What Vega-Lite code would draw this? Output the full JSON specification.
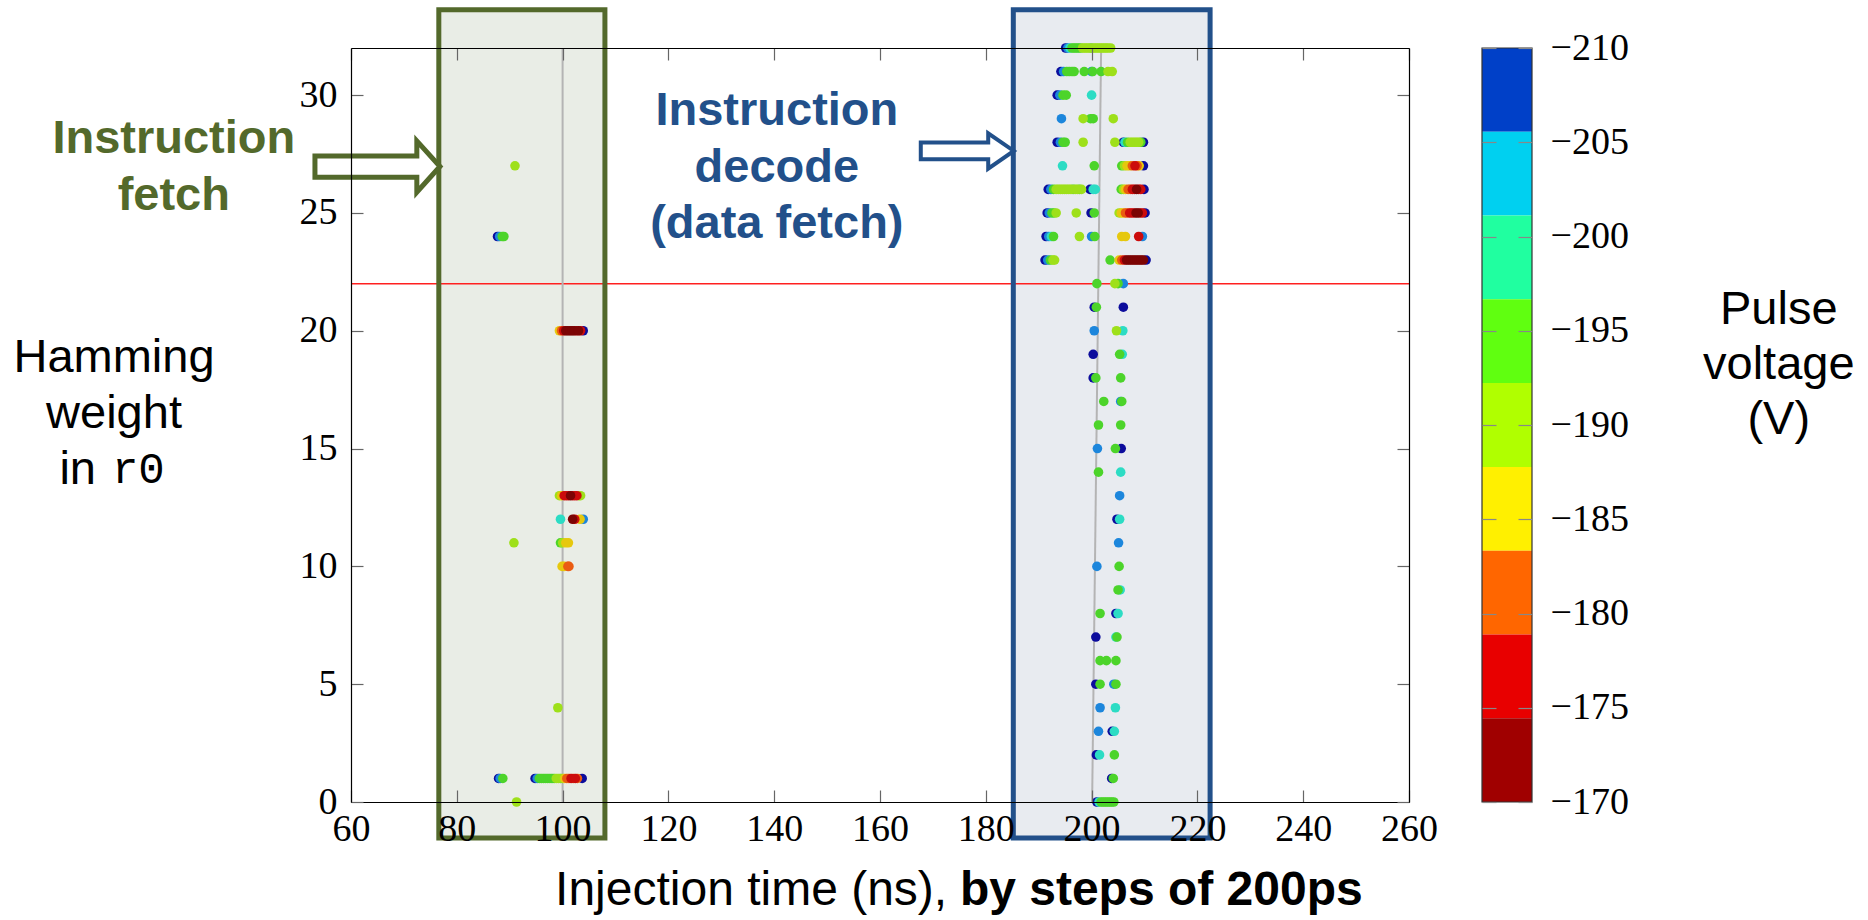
{
  "$schema": "https://vega.github.io/schema/vega-lite/v6.json",
  "padding": {"left": 13, "top": 7, "right": 5, "bottom": 5},
  "background": "white",
  "width": 1058,
  "height": 754,
  "config": {
    "view": {"stroke": null},
    "axis": {"grid": false, "title": null, "zindex": 1, "labelFont": "Liberation Serif", "labelFontSize": 38, "labelColor": "#000", "domainColor": "#000", "domainWidth": 1.2, "tickColor": "#666", "tickWidth": 1.2, "labelFlush": false, "labelOverlap": false}
  },
  "datasets": {
    "pts": [
      {"t":91.0,"hw":27,"v":-190},
      {"t":87.7,"hw":24,"v":-208},{"t":88.1,"hw":24,"v":-203.5},{"t":88.6,"hw":24,"v":-194.5},{"t":88.9,"hw":24,"v":-194.5},
      {"t":99.4,"hw":20,"v":-185.5},{"t":99.8,"hw":20,"v":-181},{"t":100.2,"hw":20,"v":-176.5},{"t":100.6,"hw":20,"v":-172},{"t":101.0,"hw":20,"v":-172},{"t":101.4,"hw":20,"v":-172},{"t":101.8,"hw":20,"v":-172},{"t":102.2,"hw":20,"v":-172},{"t":102.6,"hw":20,"v":-176.5},{"t":103.0,"hw":20,"v":-172},{"t":103.4,"hw":20,"v":-176.5},{"t":103.9,"hw":20,"v":-208},
      {"t":99.4,"hw":13,"v":-190},{"t":99.8,"hw":13,"v":-185.5},{"t":100.3,"hw":13,"v":-176.5},{"t":100.7,"hw":13,"v":-176.5},{"t":101.1,"hw":13,"v":-176.5},{"t":101.5,"hw":13,"v":-172},{"t":101.9,"hw":13,"v":-176.5},{"t":102.3,"hw":13,"v":-176.5},{"t":102.7,"hw":13,"v":-176.5},{"t":103.1,"hw":13,"v":-190},{"t":103.4,"hw":13,"v":-190},
      {"t":99.6,"hw":12,"v":-199},{"t":101.9,"hw":12,"v":-172},{"t":102.3,"hw":12,"v":-176.5},{"t":103.3,"hw":12,"v":-185.5},{"t":103.9,"hw":12,"v":-203.5},
      {"t":90.8,"hw":11,"v":-190},{"t":99.6,"hw":11,"v":-194.5},{"t":100.0,"hw":11,"v":-190},{"t":100.6,"hw":11,"v":-185.5},{"t":101.1,"hw":11,"v":-185.5},
      {"t":99.9,"hw":10,"v":-185.5},{"t":100.3,"hw":10,"v":-185.5},{"t":101.0,"hw":10,"v":-181},{"t":101.2,"hw":10,"v":-181},
      {"t":99.1,"hw":4,"v":-190},
      {"t":87.9,"hw":1,"v":-208},{"t":88.2,"hw":1,"v":-203.5},{"t":88.7,"hw":1,"v":-194.5},
      {"t":94.8,"hw":1,"v":-208},{"t":95.2,"hw":1,"v":-203.5},{"t":95.6,"hw":1,"v":-194.5},{"t":96.0,"hw":1,"v":-194.5},{"t":96.4,"hw":1,"v":-194.5},{"t":96.8,"hw":1,"v":-194.5},{"t":97.2,"hw":1,"v":-194.5},{"t":97.6,"hw":1,"v":-194.5},{"t":98.0,"hw":1,"v":-194.5},{"t":98.4,"hw":1,"v":-194.5},{"t":98.8,"hw":1,"v":-190},{"t":99.2,"hw":1,"v":-190},{"t":99.6,"hw":1,"v":-194.5},{"t":100.0,"hw":1,"v":-190},{"t":100.4,"hw":1,"v":-185.5},{"t":100.8,"hw":1,"v":-181},{"t":101.2,"hw":1,"v":-181},{"t":101.6,"hw":1,"v":-176.5},{"t":102.0,"hw":1,"v":-181},{"t":102.4,"hw":1,"v":-176.5},{"t":102.8,"hw":1,"v":-181},{"t":103.7,"hw":1,"v":-208},
      {"t":91.3,"hw":0,"v":-190},
      {"t":195.1,"hw":32,"v":-208},{"t":195.5,"hw":32,"v":-203.5},{"t":195.9,"hw":32,"v":-199},{"t":196.3,"hw":32,"v":-194.5},{"t":196.7,"hw":32,"v":-194.5},{"t":197.1,"hw":32,"v":-194.5},{"t":197.5,"hw":32,"v":-194.5},{"t":197.9,"hw":32,"v":-194.5},{"t":198.3,"hw":32,"v":-190},{"t":198.7,"hw":32,"v":-190},{"t":199.1,"hw":32,"v":-190},{"t":199.5,"hw":32,"v":-190},{"t":199.9,"hw":32,"v":-194.5},{"t":200.3,"hw":32,"v":-190},{"t":200.7,"hw":32,"v":-190},{"t":201.1,"hw":32,"v":-190},{"t":201.5,"hw":32,"v":-190},{"t":201.9,"hw":32,"v":-190},{"t":202.3,"hw":32,"v":-190},{"t":202.7,"hw":32,"v":-190},{"t":203.1,"hw":32,"v":-190},{"t":203.6,"hw":32,"v":-190},
      {"t":194.2,"hw":31,"v":-208},{"t":194.7,"hw":31,"v":-203.5},{"t":195.3,"hw":31,"v":-194.5},{"t":195.8,"hw":31,"v":-194.5},{"t":196.3,"hw":31,"v":-194.5},{"t":196.7,"hw":31,"v":-194.5},{"t":198.6,"hw":31,"v":-194.5},{"t":200.0,"hw":31,"v":-203.5},{"t":200.2,"hw":31,"v":-194.5},{"t":201.8,"hw":31,"v":-194.5},{"t":203.1,"hw":31,"v":-190},{"t":203.9,"hw":31,"v":-190},
      {"t":193.5,"hw":30,"v":-208},{"t":194.0,"hw":30,"v":-203.5},{"t":194.6,"hw":30,"v":-194.5},{"t":195.2,"hw":30,"v":-194.5},{"t":200.0,"hw":30,"v":-199},
      {"t":194.3,"hw":29,"v":-203.5},{"t":198.4,"hw":29,"v":-190},{"t":199.8,"hw":29,"v":-194.5},{"t":200.3,"hw":29,"v":-194.5},{"t":204.1,"hw":29,"v":-190},
      {"t":193.5,"hw":28,"v":-208},{"t":194.1,"hw":28,"v":-203.5},{"t":194.6,"hw":28,"v":-194.5},{"t":195.0,"hw":28,"v":-194.5},{"t":198.4,"hw":28,"v":-190},{"t":204.4,"hw":28,"v":-190},{"t":206.0,"hw":28,"v":-208},{"t":206.3,"hw":28,"v":-199},{"t":206.8,"hw":28,"v":-194.5},{"t":207.3,"hw":28,"v":-190},{"t":207.7,"hw":28,"v":-190},{"t":208.1,"hw":28,"v":-190},{"t":208.5,"hw":28,"v":-190},{"t":208.9,"hw":28,"v":-190},{"t":209.3,"hw":28,"v":-194.5},{"t":209.8,"hw":28,"v":-208},
      {"t":194.5,"hw":27,"v":-199},{"t":200.5,"hw":27,"v":-194.5},{"t":205.7,"hw":27,"v":-194.5},{"t":206.2,"hw":27,"v":-190},{"t":206.7,"hw":27,"v":-185.5},{"t":207.2,"hw":27,"v":-185.5},{"t":207.7,"hw":27,"v":-181},{"t":208.2,"hw":27,"v":-176.5},{"t":208.6,"hw":27,"v":-181},{"t":209.0,"hw":27,"v":-185.5},{"t":209.8,"hw":27,"v":-208},
      {"t":191.8,"hw":26,"v":-208},{"t":192.3,"hw":26,"v":-203.5},{"t":192.8,"hw":26,"v":-194.5},{"t":193.3,"hw":26,"v":-190},{"t":193.7,"hw":26,"v":-190},{"t":194.1,"hw":26,"v":-190},{"t":194.5,"hw":26,"v":-190},{"t":194.9,"hw":26,"v":-190},{"t":195.3,"hw":26,"v":-190},{"t":195.7,"hw":26,"v":-190},{"t":196.1,"hw":26,"v":-190},{"t":196.5,"hw":26,"v":-194.5},{"t":196.9,"hw":26,"v":-190},{"t":197.3,"hw":26,"v":-190},{"t":197.7,"hw":26,"v":-194.5},{"t":198.1,"hw":26,"v":-190},{"t":199.7,"hw":26,"v":-208},{"t":200.3,"hw":26,"v":-199},{"t":200.7,"hw":26,"v":-199},{"t":205.6,"hw":26,"v":-194.5},{"t":206.0,"hw":26,"v":-190},{"t":206.4,"hw":26,"v":-185.5},{"t":206.9,"hw":26,"v":-181},{"t":207.3,"hw":26,"v":-181},{"t":207.7,"hw":26,"v":-176.5},{"t":208.1,"hw":26,"v":-176.5},{"t":208.5,"hw":26,"v":-172},{"t":208.9,"hw":26,"v":-176.5},{"t":209.3,"hw":26,"v":-176.5},{"t":209.9,"hw":26,"v":-208},
      {"t":191.6,"hw":25,"v":-208},{"t":192.0,"hw":25,"v":-203.5},{"t":192.5,"hw":25,"v":-194.5},{"t":192.9,"hw":25,"v":-194.5},{"t":193.3,"hw":25,"v":-190},{"t":197.1,"hw":25,"v":-190},{"t":199.9,"hw":25,"v":-208},{"t":200.5,"hw":25,"v":-194.5},{"t":205.2,"hw":25,"v":-190},{"t":205.6,"hw":25,"v":-185.5},{"t":206.0,"hw":25,"v":-185.5},{"t":206.4,"hw":25,"v":-181},{"t":206.8,"hw":25,"v":-181},{"t":207.2,"hw":25,"v":-176.5},{"t":207.6,"hw":25,"v":-176.5},{"t":208.0,"hw":25,"v":-176.5},{"t":208.4,"hw":25,"v":-172},{"t":208.8,"hw":25,"v":-172},{"t":209.2,"hw":25,"v":-176.5},{"t":209.6,"hw":25,"v":-176.5},{"t":210.1,"hw":25,"v":-208},
      {"t":191.4,"hw":24,"v":-208},{"t":191.9,"hw":24,"v":-203.5},{"t":192.4,"hw":24,"v":-199},{"t":192.8,"hw":24,"v":-194.5},{"t":197.7,"hw":24,"v":-190},{"t":200.0,"hw":24,"v":-203.5},{"t":200.6,"hw":24,"v":-194.5},{"t":205.7,"hw":24,"v":-185.5},{"t":206.4,"hw":24,"v":-185.5},{"t":208.9,"hw":24,"v":-176.5},{"t":209.6,"hw":24,"v":-203.5},
      {"t":191.2,"hw":23,"v":-208},{"t":191.7,"hw":23,"v":-203.5},{"t":192.2,"hw":23,"v":-194.5},{"t":192.7,"hw":23,"v":-190},{"t":193.0,"hw":23,"v":-190},{"t":203.5,"hw":23,"v":-194.5},{"t":205.2,"hw":23,"v":-185.5},{"t":205.7,"hw":23,"v":-181},{"t":206.2,"hw":23,"v":-176.5},{"t":206.6,"hw":23,"v":-172},{"t":207.0,"hw":23,"v":-172},{"t":207.4,"hw":23,"v":-172},{"t":207.8,"hw":23,"v":-172},{"t":208.2,"hw":23,"v":-172},{"t":208.6,"hw":23,"v":-172},{"t":209.0,"hw":23,"v":-172},{"t":209.4,"hw":23,"v":-172},{"t":209.8,"hw":23,"v":-172},{"t":210.3,"hw":23,"v":-208},
      {"t":201.0,"hw":22,"v":-194.5},{"t":204.4,"hw":22,"v":-190},{"t":205.0,"hw":22,"v":-194.5},{"t":206.0,"hw":22,"v":-203.5},
      {"t":200.5,"hw":21,"v":-208},{"t":200.9,"hw":21,"v":-194.5},{"t":206.0,"hw":21,"v":-208},
      {"t":200.5,"hw":20,"v":-203.5},{"t":204.7,"hw":20,"v":-190},{"t":205.9,"hw":20,"v":-199},
      {"t":200.3,"hw":19,"v":-208},{"t":205.3,"hw":19,"v":-194.5},{"t":205.8,"hw":19,"v":-199},
      {"t":200.3,"hw":18,"v":-208},{"t":200.8,"hw":18,"v":-194.5},{"t":205.5,"hw":18,"v":-194.5},
      {"t":202.3,"hw":17,"v":-194.5},{"t":205.5,"hw":17,"v":-203.5},{"t":205.7,"hw":17,"v":-194.5},
      {"t":201.3,"hw":16,"v":-194.5},{"t":205.5,"hw":16,"v":-194.5},
      {"t":201.1,"hw":15,"v":-203.5},{"t":204.5,"hw":15,"v":-194.5},{"t":205.6,"hw":15,"v":-208},
      {"t":201.3,"hw":14,"v":-194.5},{"t":205.5,"hw":14,"v":-199},
      {"t":205.3,"hw":13,"v":-203.5},
      {"t":204.8,"hw":12,"v":-208},{"t":205.3,"hw":12,"v":-199},
      {"t":205.1,"hw":11,"v":-203.5},
      {"t":201.0,"hw":10,"v":-203.5},{"t":205.2,"hw":10,"v":-194.5},
      {"t":205.0,"hw":9,"v":-194.5},{"t":205.4,"hw":9,"v":-199},
      {"t":201.6,"hw":8,"v":-194.5},{"t":204.6,"hw":8,"v":-208},{"t":205.0,"hw":8,"v":-199},
      {"t":200.8,"hw":7,"v":-208},{"t":204.6,"hw":7,"v":-199},{"t":204.8,"hw":7,"v":-194.5},
      {"t":201.6,"hw":6,"v":-194.5},{"t":202.8,"hw":6,"v":-194.5},{"t":204.6,"hw":6,"v":-194.5},
      {"t":200.8,"hw":5,"v":-208},{"t":201.6,"hw":5,"v":-194.5},{"t":204.2,"hw":5,"v":-203.5},{"t":204.6,"hw":5,"v":-194.5},
      {"t":201.6,"hw":4,"v":-203.5},{"t":204.5,"hw":4,"v":-199},
      {"t":201.3,"hw":3,"v":-203.5},{"t":203.9,"hw":3,"v":-208},{"t":204.3,"hw":3,"v":-199},
      {"t":200.9,"hw":2,"v":-208},{"t":201.5,"hw":2,"v":-199},{"t":204.3,"hw":2,"v":-194.5},
      {"t":203.8,"hw":1,"v":-208},{"t":204.1,"hw":1,"v":-194.5},
      {"t":201.0,"hw":0,"v":-208},{"t":201.4,"hw":0,"v":-199},{"t":201.8,"hw":0,"v":-194.5},{"t":202.2,"hw":0,"v":-194.5},{"t":202.6,"hw":0,"v":-194.5},{"t":203.0,"hw":0,"v":-194.5},{"t":203.4,"hw":0,"v":-194.5},{"t":203.8,"hw":0,"v":-194.5},{"t":204.2,"hw":0,"v":-194.5}
    ],
    "boxes": [
      {"stage": "fetch", "t1": 76.6, "t2": 108.0, "lo": -1.53, "hi": 33.62},
      {"stage": "decode", "t1": 185.2, "t2": 222.4, "lo": -1.53, "hi": 33.62}
    ],
    "glines": [
      {"t": 100, "t2": 100, "hw": 0, "hw2": 32},
      {"t": 201.8, "t2": 200.1, "hw": 32, "hw2": 0}
    ],
    "thr": [{"hw": 22}],
    "arrows": [
      {"stage": "fetch", "t": 65.0, "hw": 26.97},
      {"stage": "decode", "t": 176.5, "hw": 27.63}
    ],
    "ann": [
      {"kind": "fetch", "t": 26.5, "hw": 28.14, "text": "Instruction"},
      {"kind": "fetch", "t": 26.5, "hw": 25.72, "text": "fetch"},
      {"kind": "decode", "t": 140.5, "hw": 29.33, "text": "Instruction"},
      {"kind": "decode", "t": 140.5, "hw": 26.91, "text": "decode"},
      {"kind": "decode", "t": 140.5, "hw": 24.53, "text": "(data fetch)"},
      {"kind": "ylab", "t": 15.2, "hw": 18.85, "text": "Hamming"},
      {"kind": "ylab", "t": 15.2, "hw": 16.47, "text": "weight"},
      {"kind": "ylabin", "t": 11.8, "hw": 14.09, "text": "in"},
      {"kind": "ylabmono", "t": 14.8, "hw": 14.09, "text": "r0"},
      {"kind": "ylab", "t": 329.9, "hw": 20.88, "text": "Pulse"},
      {"kind": "ylab", "t": 329.9, "hw": 18.55, "text": "voltage"},
      {"kind": "ylab", "t": 329.9, "hw": 16.21, "text": "(V)"},
      {"kind": "xt", "t": 172.7, "hw": -3.78, "text": "Injection time (ns),"},
      {"kind": "xtb", "t": 175.1, "hw": -3.78, "text": "by steps of 200ps"}
    ],
    "bands": [
      {"band": "c1", "lo": -210, "hi": -205.556},
      {"band": "c2", "lo": -205.556, "hi": -201.111},
      {"band": "c3", "lo": -201.111, "hi": -196.667},
      {"band": "c4", "lo": -196.667, "hi": -192.222},
      {"band": "c5", "lo": -192.222, "hi": -187.778},
      {"band": "c6", "lo": -187.778, "hi": -183.333},
      {"band": "c7", "lo": -183.333, "hi": -178.889},
      {"band": "c8", "lo": -178.889, "hi": -174.444},
      {"band": "c9", "lo": -174.444, "hi": -170}
    ],
    "cbframe": [{"lo": -210, "hi": -170}]
  },
  "resolve": {"scale": {"x": "independent", "y": "independent", "color": "independent"}, "axis": {"x": "independent", "y": "independent"}},
  "layer": [
    {
      "data": {"name": "boxes"},
      "mark": {"type": "rect", "strokeWidth": 0},
      "encoding": {
        "x": {"field": "t1", "type": "quantitative", "scale": {"domain": [60, 260], "nice": false, "zero": false}, "axis": null},
        "x2": {"field": "t2"},
        "y": {"field": "lo", "type": "quantitative", "scale": {"domain": [0, 32], "nice": false, "zero": false}, "axis": null},
        "y2": {"field": "hi"},
        "fill": {"field": "stage", "type": "nominal", "scale": {"domain": ["fetch", "decode"], "range": ["#e9ede6", "#e8ebf0"]}, "legend": null}
      }
    },
    {
      "data": {"name": "thr"},
      "mark": {"type": "rule", "color": "#ff2020", "strokeWidth": 1.5},
      "encoding": {
        "y": {"field": "hw", "type": "quantitative", "scale": {"domain": [0, 32], "nice": false, "zero": false}, "axis": null}
      }
    },
    {
      "data": {"name": "glines"},
      "mark": {"type": "rule", "color": "#b4b4b4", "strokeWidth": 2},
      "encoding": {
        "x": {"field": "t", "type": "quantitative", "scale": {"domain": [60, 260], "nice": false, "zero": false},
              "axis": {"orient": "top", "zindex": 2, "values": [60, 80, 100, 120, 140, 160, 180, 200, 220, 240, 260], "labels": false, "tickSize": -12, "domain": true}},
        "x2": {"field": "t2"},
        "y": {"field": "hw", "type": "quantitative", "scale": {"domain": [0, 32], "nice": false, "zero": false},
              "axis": {"orient": "right", "zindex": 2, "values": [0, 5, 10, 15, 20, 25, 30], "labels": false, "tickSize": -12, "domain": true}},
        "y2": {"field": "hw2"}
      }
    },
    {
      "data": {"name": "pts"},
      "mark": {"type": "circle", "size": 92, "opacity": 1},
      "encoding": {
        "x": {"field": "t", "type": "quantitative", "scale": {"domain": [60, 260], "nice": false, "zero": false},
              "axis": {"orient": "bottom", "zindex": 2, "values": [60, 80, 100, 120, 140, 160, 180, 200, 220, 240, 260], "tickSize": -12, "labelPadding": 20, "domain": true}},
        "y": {"field": "hw", "type": "quantitative", "scale": {"domain": [0, 32], "nice": false, "zero": false},
              "axis": {"orient": "left", "zindex": 2, "values": [0, 5, 10, 15, 20, 25, 30], "tickSize": -12, "labelPadding": 26, "domain": true}},
        "color": {"field": "v", "type": "quantitative", "scale": {"type": "quantize", "domain": [-210, -170], "range": ["#0c0c9c", "#1c86dc", "#2cdcc4", "#4cd42a", "#9ee01a", "#e6c80e", "#ea5c12", "#cc0c0c", "#7c0404"]}, "legend": null},
        "order": {"field": "v", "type": "quantitative", "sort": "ascending"}
      }
    },
    {
      "data": {"name": "boxes"},
      "mark": {"type": "rect", "fillOpacity": 0, "strokeWidth": 5},
      "encoding": {
        "x": {"field": "t1", "type": "quantitative", "scale": {"domain": [60, 260], "nice": false, "zero": false}, "axis": null},
        "x2": {"field": "t2"},
        "y": {"field": "lo", "type": "quantitative", "scale": {"domain": [0, 32], "nice": false, "zero": false}, "axis": null},
        "y2": {"field": "hi"},
        "stroke": {"field": "stage", "type": "nominal", "scale": {"domain": ["fetch", "decode"], "range": ["#53692b", "#22508a"]}, "legend": null}
      }
    },
    {
      "data": {"name": "arrows"},
      "transform": [{"filter": "datum.stage === 'fetch'"}],
      "mark": {"type": "point", "shape": "M-1,-0.17L0.63,-0.17L0.63,-0.41L1,0L0.63,0.41L0.63,0.17L-1,0.17Z", "size": 15625, "filled": false, "fill": "white", "fillOpacity": 1, "stroke": "#53692b", "strokeWidth": 5, "opacity": 1},
      "encoding": {
        "x": {"field": "t", "type": "quantitative", "scale": {"domain": [60, 260], "nice": false, "zero": false}, "axis": null},
        "y": {"field": "hw", "type": "quantitative", "scale": {"domain": [0, 32], "nice": false, "zero": false}, "axis": null}
      }
    },
    {
      "data": {"name": "arrows"},
      "transform": [{"filter": "datum.stage === 'decode'"}],
      "mark": {"type": "point", "shape": "M-1,-0.18L0.45,-0.18L0.45,-0.38L1,0L0.45,0.38L0.45,0.18L-1,0.18Z", "size": 8649, "filled": false, "fill": "white", "fillOpacity": 1, "stroke": "#22508a", "strokeWidth": 4, "opacity": 1},
      "encoding": {
        "x": {"field": "t", "type": "quantitative", "scale": {"domain": [60, 260], "nice": false, "zero": false}, "axis": null},
        "y": {"field": "hw", "type": "quantitative", "scale": {"domain": [0, 32], "nice": false, "zero": false}, "axis": null}
      }
    },
    {
      "data": {"name": "ann"},
      "transform": [{"filter": "datum.kind === 'fetch'"}],
      "mark": {"type": "text", "font": "Liberation Sans", "fontWeight": "bold", "fontSize": 47, "color": "#53692b", "align": "center", "baseline": "middle"},
      "encoding": {
        "x": {"field": "t", "type": "quantitative", "scale": {"domain": [60, 260], "nice": false, "zero": false}, "axis": null},
        "y": {"field": "hw", "type": "quantitative", "scale": {"domain": [0, 32], "nice": false, "zero": false}, "axis": null},
        "text": {"field": "text"}
      }
    },
    {
      "data": {"name": "ann"},
      "transform": [{"filter": "datum.kind === 'decode'"}],
      "mark": {"type": "text", "font": "Liberation Sans", "fontWeight": "bold", "fontSize": 47, "color": "#22508a", "align": "center", "baseline": "middle"},
      "encoding": {
        "x": {"field": "t", "type": "quantitative", "scale": {"domain": [60, 260], "nice": false, "zero": false}, "axis": null},
        "y": {"field": "hw", "type": "quantitative", "scale": {"domain": [0, 32], "nice": false, "zero": false}, "axis": null},
        "text": {"field": "text"}
      }
    },
    {
      "data": {"name": "ann"},
      "transform": [{"filter": "datum.kind === 'ylab'"}],
      "mark": {"type": "text", "font": "Liberation Sans", "fontSize": 47, "color": "#000", "align": "center", "baseline": "middle"},
      "encoding": {
        "x": {"field": "t", "type": "quantitative", "scale": {"domain": [60, 260], "nice": false, "zero": false}, "axis": null},
        "y": {"field": "hw", "type": "quantitative", "scale": {"domain": [0, 32], "nice": false, "zero": false}, "axis": null},
        "text": {"field": "text"}
      }
    },
    {
      "data": {"name": "ann"},
      "transform": [{"filter": "datum.kind === 'ylabin'"}],
      "mark": {"type": "text", "font": "Liberation Sans", "fontSize": 47, "color": "#000", "align": "right", "baseline": "middle"},
      "encoding": {
        "x": {"field": "t", "type": "quantitative", "scale": {"domain": [60, 260], "nice": false, "zero": false}, "axis": null},
        "y": {"field": "hw", "type": "quantitative", "scale": {"domain": [0, 32], "nice": false, "zero": false}, "axis": null},
        "text": {"field": "text"}
      }
    },
    {
      "data": {"name": "ann"},
      "transform": [{"filter": "datum.kind === 'ylabmono'"}],
      "mark": {"type": "text", "font": "Liberation Mono", "fontSize": 44, "color": "#000", "align": "left", "baseline": "middle"},
      "encoding": {
        "x": {"field": "t", "type": "quantitative", "scale": {"domain": [60, 260], "nice": false, "zero": false}, "axis": null},
        "y": {"field": "hw", "type": "quantitative", "scale": {"domain": [0, 32], "nice": false, "zero": false}, "axis": null},
        "text": {"field": "text"}
      }
    },
    {
      "data": {"name": "ann"},
      "transform": [{"filter": "datum.kind === 'xt'"}],
      "mark": {"type": "text", "font": "Liberation Sans", "fontSize": 48, "color": "#000", "align": "right", "baseline": "middle"},
      "encoding": {
        "x": {"field": "t", "type": "quantitative", "scale": {"domain": [60, 260], "nice": false, "zero": false}, "axis": null},
        "y": {"field": "hw", "type": "quantitative", "scale": {"domain": [0, 32], "nice": false, "zero": false}, "axis": null},
        "text": {"field": "text"}
      }
    },
    {
      "data": {"name": "ann"},
      "transform": [{"filter": "datum.kind === 'xtb'"}],
      "mark": {"type": "text", "font": "Liberation Sans", "fontWeight": "bold", "fontSize": 48, "color": "#000", "align": "left", "baseline": "middle"},
      "encoding": {
        "x": {"field": "t", "type": "quantitative", "scale": {"domain": [60, 260], "nice": false, "zero": false}, "axis": null},
        "y": {"field": "hw", "type": "quantitative", "scale": {"domain": [0, 32], "nice": false, "zero": false}, "axis": null},
        "text": {"field": "text"}
      }
    },
    {
      "data": {"name": "bands"},
      "mark": {"type": "rect", "strokeWidth": 0},
      "encoding": {
        "x": {"datum": 0, "type": "quantitative", "scale": {"domain": [0, 1], "range": [1131, 1181], "nice": false, "zero": false}, "axis": null},
        "x2": {"datum": 1},
        "y": {"field": "lo", "type": "quantitative", "scale": {"domain": [-210, -170], "reverse": true, "nice": false, "zero": false},
              "axis": {"orient": "right", "zindex": 2, "offset": 123, "values": [-210, -205, -200, -195, -190, -185, -180, -175, -170], "tickSize": -14, "tickColor": "#888", "labelPadding": 32, "domain": false}},
        "y2": {"field": "hi"},
        "color": {"field": "band", "type": "nominal", "scale": {"domain": ["c1", "c2", "c3", "c4", "c5", "c6", "c7", "c8", "c9"], "range": ["#0040c8", "#00d0f0", "#20ffa0", "#60ff10", "#b0ff00", "#fff000", "#ff6600", "#e80000", "#a00000"]}, "legend": null}
      }
    },
    {
      "data": {"name": "cbframe"},
      "mark": {"type": "rect", "fillOpacity": 0, "stroke": "#333", "strokeWidth": 1.2},
      "encoding": {
        "x": {"datum": 0, "type": "quantitative", "scale": {"domain": [0, 1], "range": [1131, 1181], "nice": false, "zero": false}, "axis": null},
        "x2": {"datum": 1},
        "y": {"field": "lo", "type": "quantitative", "scale": {"domain": [-210, -170], "reverse": true, "nice": false, "zero": false},
              "axis": {"orient": "left", "zindex": 2, "offset": -1131, "values": [-210, -205, -200, -195, -190, -185, -180, -175, -170], "labels": false, "tickSize": -14, "tickColor": "#888", "domain": false}},
        "y2": {"field": "hi"}
      }
    }
  ]
}
